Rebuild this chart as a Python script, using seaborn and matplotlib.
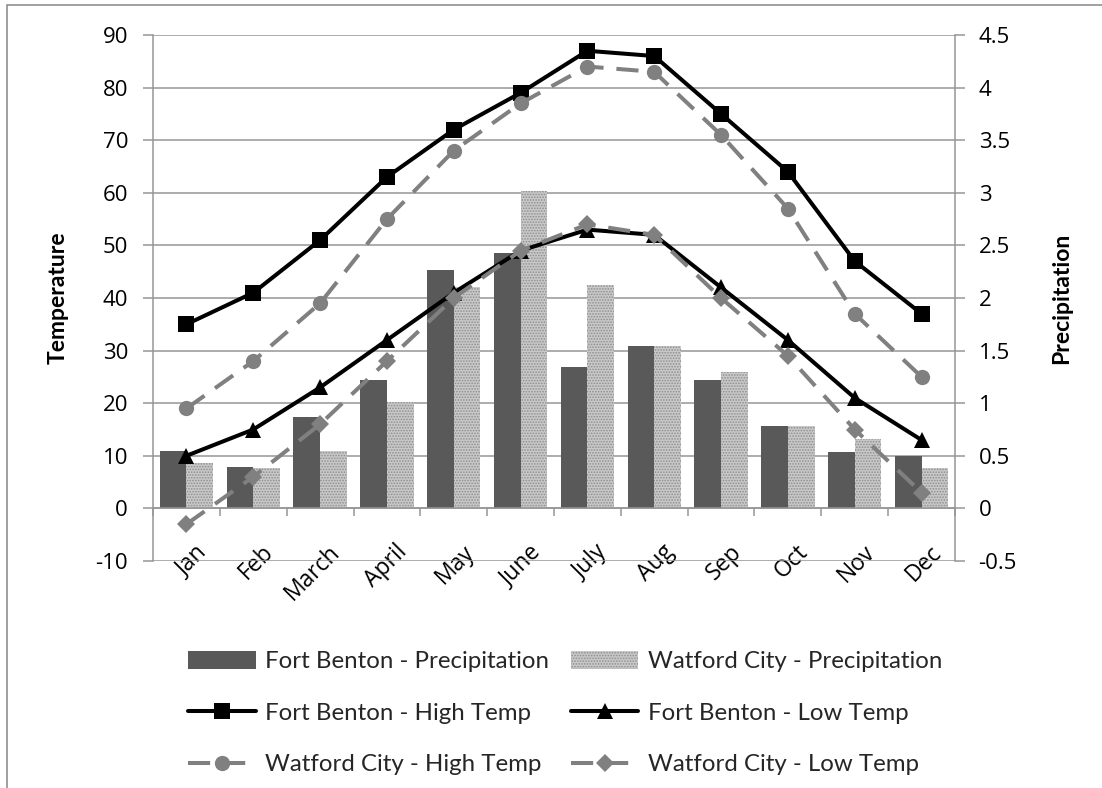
import numpy as np
import pandas as pd
import matplotlib
matplotlib.use("Agg")
import matplotlib.pyplot as plt
import matplotlib.transforms as mtransforms
from matplotlib.patches import Rectangle
import seaborn as sns

# ---------------- data ----------------
months = ["Jan", "Feb", "March", "April", "May", "June",
          "July", "Aug", "Sep", "Oct", "Nov", "Dec"]
fb_precip = [0.55, 0.39, 0.87, 1.22, 2.27, 2.43, 1.34, 1.54, 1.22, 0.78, 0.54, 0.50]
wc_precip = [0.43, 0.38, 0.55, 1.01, 2.10, 3.02, 2.12, 1.54, 1.30, 0.78, 0.66, 0.38]
fb_high = [35, 41, 51, 63, 72, 79, 87, 86, 75, 64, 47, 37]
fb_low = [10, 15, 23, 32, 41, 49, 53, 52, 42, 32, 21, 13]
wc_high = [19, 28, 39, 55, 68, 77, 84, 83, 71, 57, 37, 25]
wc_low = [-3, 6, 16, 28, 40, 49, 54, 52, 40, 29, 15, 3]

temp_ticks = list(range(-10, 91, 10))
temp_tick_labels = ["-10", "0", "10", "20", "30", "40", "50", "60", "70", "80", "90"]
precip_ticks = [-0.5, 0, 0.5, 1, 1.5, 2, 2.5, 3, 3.5, 4, 4.5]
precip_tick_labels = ["-0.5", "0", "0.5", "1", "1.5", "2", "2.5", "3", "3.5", "4", "4.5"]

lbl_fb_p = "Fort Benton - Precipitation"
lbl_wc_p = "Watford City - Precipitation"
lbl_fb_h = "Fort Benton - High Temp"
lbl_fb_l = "Fort Benton - Low Temp"
lbl_wc_h = "Watford City - High Temp"
lbl_wc_l = "Watford City - Low Temp"

# ---------------- style ----------------
sns.set_theme(style="white")
plt.rcParams["font.family"] = ["Lato", "DejaVu Sans"]
plt.rcParams["hatch.linewidth"] = 0.8
plt.rcParams["axes.unicode_minus"] = False

GRID = "#969696"
DARK = "#595959"
GRAYLINE = "#808080"
TICKFONT = ["Open Sans", "DejaVu Sans"]

W, H = 1102, 788
fig = plt.figure(figsize=(W / 100, H / 100), dpi=100)
left, right, top, bottom = 153, 955, 35, 561
ax = fig.add_axes([left / W, 1 - bottom / H, (right - left) / W, (bottom - top) / H])

# ---------------- bars (precipitation, right scale) ----------------
df_p = pd.DataFrame({
    "month": months * 2,
    "precip": fb_precip + wc_precip,
    "station": [lbl_fb_p] * 12 + [lbl_wc_p] * 12,
})
sns.barplot(data=df_p, x="month", y="precip", hue="station",
            palette=[DARK, "#c9c9c9"], width=0.8, saturation=1,
            linewidth=0, legend=False, ax=ax, zorder=2)
for p in ax.containers[1].patches:
    p.set_hatch("......")
    p.set_edgecolor("#8e8e8e")
    p.set_linewidth(0)

# twin axis for temperature lines (drawn above the bars)
ax2 = ax.twinx()

ax.set_ylim(-0.5, 4.5)
ax.set_xlim(-0.5, 11.5)
ax.yaxis.tick_right()
ax.yaxis.set_label_position("right")
ax.set_yticks(precip_ticks)
ax.set_yticklabels(precip_tick_labels)
ax.grid(axis="y", color=GRID, linewidth=1.1, zorder=0)
ax.grid(axis="x", visible=False)
ax.set_axisbelow(True)

for s in ["top", "left"]:
    ax.spines[s].set_visible(False)
ax.spines["right"].set_color(GRID)
ax.spines["right"].set_linewidth(1.1)
ax.spines["bottom"].set_position(("data", 0))
ax.spines["bottom"].set_color(GRID)
ax.spines["bottom"].set_linewidth(1.1)

ax.tick_params(axis="y", which="major", right=True, left=False, labelright=True,
               labelleft=False, direction="out", length=7, width=1.1, color=GRID,
               pad=10, labelsize=16, labelcolor="black", labelfontfamily=TICKFONT)
ax.set_xticks(range(len(months)))
ax.set_xticks(np.arange(-0.5, 12, 1.0), minor=True)
ax.tick_params(axis="x", which="major", length=0, pad=23, labelsize=16.5,
               labelcolor="black", labelfontfamily=TICKFONT)
ax.tick_params(axis="x", which="minor", bottom=True, direction="out",
               length=6, width=1.1, color=GRID)
ax.set_xticklabels(months, rotation=45, ha="right", rotation_mode="anchor")
offset = mtransforms.ScaledTranslation(6 / 72, 0, fig.dpi_scale_trans)
for t in ax.get_xticklabels():
    t.set_transform(t.get_transform() + offset)
ax.set_xlabel("")
ax.set_ylabel("Precipitation", fontsize=16.5, fontweight="bold", color="black")
ax.yaxis.set_label_coords(1.12, 0.5)

# ---------------- lines (temperature, left scale) ----------------
ax2.yaxis.tick_left()
ax2.yaxis.set_label_position("left")
x_pos = np.arange(len(months))
dash = (0, (5.5, 3.2))
line_specs = [
    (fb_high, lbl_fb_h, "black", "-", "s", 11.5),
    (fb_low, lbl_fb_l, "black", "-", "^", 11.5),
    (wc_high, lbl_wc_h, GRAYLINE, dash, "o", 11),
    (wc_low, lbl_wc_l, GRAYLINE, dash, "D", 9),
]
for vals, lbl, col, ls, mk, ms in line_specs:
    sns.lineplot(x=x_pos, y=vals, ax=ax2, color=col, linewidth=2.9,
                 linestyle=ls, marker=mk, markersize=ms, markeredgewidth=0,
                 markerfacecolor=col, label=lbl, legend=False, sort=False,
                 zorder=5)

ax2.set_ylim(-10, 90)
ax2.set_xlim(-0.5, 11.5)
ax2.set_yticks(temp_ticks)
ax2.set_yticklabels(temp_tick_labels)
ax2.grid(False)
for s in ["top", "right", "bottom"]:
    ax2.spines[s].set_visible(False)
ax2.spines["left"].set_color(GRID)
ax2.spines["left"].set_linewidth(1.1)
ax2.tick_params(axis="y", which="major", left=True, right=False, labelleft=True,
                labelright=False, direction="out", length=7, width=1.1, color=GRID,
                pad=11, labelsize=16, labelcolor="black", labelfontfamily=TICKFONT)
ax2.set_ylabel("Temperature", fontsize=16.5, fontweight="bold", color="black")
ax2.yaxis.set_label_coords(-0.105, 0.5)

# ---------------- legend ----------------
bar_handles = ax.containers
lines = ax2.get_lines()
handles = [bar_handles[0], lines[0], lines[2], bar_handles[1], lines[1], lines[3]]
labels = [lbl_fb_p, lbl_fb_h, lbl_wc_h, lbl_wc_p, lbl_fb_l, lbl_wc_l]
fig.legend(handles, labels, loc="center", bbox_to_anchor=(0.513, 0.095),
           ncol=2, frameon=False, fontsize=17.3, handlelength=2.8,
           handletextpad=0.4, columnspacing=0.9, labelspacing=1.25,
           handleheight=0.8)

# outer chart-area border
fig.add_artist(Rectangle((7 / W, -0.1), 1.2, 1.1 - 5.5 / H,
                         transform=fig.transFigure, fill=False,
                         edgecolor="#868686", linewidth=1.1, clip_on=False))

fig.savefig("out.png", dpi=100, facecolor="white")
